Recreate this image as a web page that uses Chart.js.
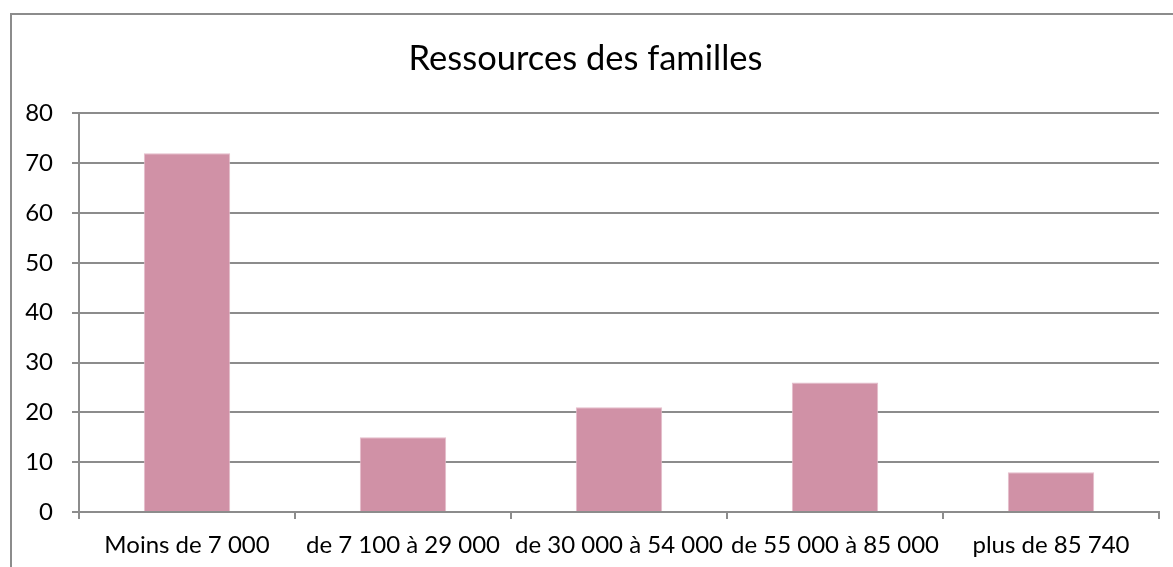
<!DOCTYPE html>
<html>
<head>
<meta charset="utf-8">
<script src="https://cdn.jsdelivr.net/npm/chart.js@4"></script>
<style>
  html, body { margin: 0; padding: 0; background: #fff; overflow: hidden; }
  #cadre {
    position: absolute; left: 10px; top: 13px;
    width: 1200px; height: 600px;
    border: 2px solid #8c8c8c; box-sizing: content-box;
  }
  #graph { position: absolute; left: 0; top: 0; }
</style>
</head>
<body>
<div id="cadre">
  <canvas id="graph" width="1161" height="552"></canvas>
</div>
<script>
// Données du graphique
const categories = ['Moins de 7 000', 'de 7 100 à 29 000', 'de 30 000 à 54 000', 'de 55 000 à 85 000', 'plus de 85 740'];
const familles = [72, 15, 21, 26, 8];
const titre = 'Ressources des familles';
const yMax = 80;
const yPas = 10;

const gris = '#8c8c8c';
const police = 'Lato, Carlito, Calibri, sans-serif';

const canvas = document.getElementById('graph');
canvas.style.width = '1161px';
canvas.style.height = '552px';

new Chart(canvas.getContext('2d'), {
    type: 'bar',
    data: {
        labels: categories,
        datasets: [{
            label: 'Familles',
            data: familles,
            backgroundColor: '#d091a6',
            borderColor: '#e4bccb',
            borderWidth: 1,
            barPercentage: 0.4,
            categoryPercentage: 1.0
        }]
    },
    options: {
        responsive: false,
        animation: false,
        layout: { padding: { left: 0, right: 14, top: 0, bottom: 0 } },
        plugins: {
            legend: { display: false },
            tooltip: { enabled: false },
            title: {
                display: true,
                text: titre,
                color: '#000',
                font: { family: police, size: 34.5, weight: 'normal', lineHeight: 1.2 },
                padding: { top: 23, bottom: 34 }
            }
        },
        scales: {
            x: {
                offset: true,
                grid: {
                    offset: true,
                    drawOnChartArea: false,
                    drawTicks: true,
                    tickLength: 7,
                    color: gris,
                    lineWidth: 2
                },
                border: { display: true, color: gris, width: 2 },
                ticks: {
                    color: '#000',
                    padding: 12,
                    maxRotation: 0,
                    autoSkip: false,
                    font: { family: police, size: 24 }
                },
                afterFit: (s) => { s.height = 55; }
            },
            y: {
                min: 0,
                max: yMax,
                ticks: {
                    stepSize: yPas,
                    color: '#000',
                    padding: 19,
                    font: { family: police, size: 24 }
                },
                grid: {
                    color: gris,
                    lineWidth: 2,
                    tickLength: 7,
                    drawTicks: true
                },
                border: { display: true, color: gris, width: 2 },
                afterFit: (s) => { s.width = 67; }
            }
        }
    }
});
</script>
</body>
</html>
